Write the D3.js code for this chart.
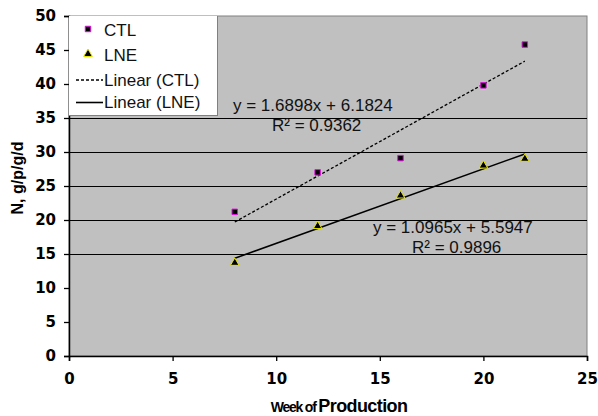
<!DOCTYPE html>
<html>
<head>
<meta charset="utf-8">
<script src="https://cdn.jsdelivr.net/npm/d3@7"></script>
<style>
  body { margin: 0; background: #fff; }
  text { font-family: "Liberation Sans", Arial, sans-serif; }
</style>
</head>
<body>
<div id="graph"></div>
<script>
const margin = {top: 16, right: 11, bottom: 60, left: 69};
const width = 598 - margin.left - margin.right;
const height = 416 - margin.top - margin.bottom;

// data
const weeks = [8, 12, 16, 20, 22];
const ctl = [21.2, 27, 29.1, 39.8, 45.8];
const lne = [13.7, 19.1, 23.6, 28, 29];
// trend lines as printed on the chart: [slope, intercept, r2]
const ctlFit = [1.6898, 6.1824, 0.9362];
const lneFit = [1.0965, 5.5947, 0.9896];
const xTicks = [0, 5, 10, 15, 20, 25];
const yTicks = [0, 5, 10, 15, 20, 25, 30, 35, 40, 45, 50];
const gridTicks = [15, 20, 25, 30, 35];
const legendItems = ["CTL", "LNE", "Linear (CTL)", "Linear (LNE)"];

const svg = d3.select("#graph")
  .append("svg")
  .attr("width", width + margin.left + margin.right)
  .attr("height", height + margin.top + margin.bottom)
  .append("g")
  .attr("transform", "translate(" + margin.left + "," + margin.top + ")");

const x = d3.scaleLinear().range([0, width]).domain([0, 25]);
const y = d3.scaleLinear().range([height, 0]).domain([0, 50]);

// plot background
svg.append("rect")
  .attr("width", width)
  .attr("height", height)
  .attr("fill", "#c0c0c0")
  .attr("stroke", "#808080")
  .attr("stroke-width", 1);

// grid lines (only the middle band has them)
svg.selectAll(".grid")
  .data(gridTicks)
  .enter().append("line")
  .attr("x1", 0).attr("x2", width)
  .attr("y1", d => y(d) + 0.5).attr("y2", d => y(d) + 0.5)
  .attr("stroke", "#000").attr("stroke-width", 1);

// axes
const xAxis = svg.append("g")
  .attr("transform", "translate(0," + height + ")")
  .call(d3.axisBottom(x).tickValues(xTicks).tickSize(5).tickPadding(12));
const yAxis = svg.append("g")
  .call(d3.axisLeft(y).tickValues(yTicks).tickSize(5).tickPadding(8));

[xAxis, yAxis].forEach(a => {
  a.select(".domain").attr("stroke", "#000").attr("stroke-width", 1.5);
  a.selectAll(".tick line").attr("stroke", "#000").attr("stroke-width", 1.3);
  a.selectAll(".tick text")
    .attr("fill", "#000")
    .style("font-family", "'DejaVu Sans', sans-serif")
    .style("font-weight", "bold")
    .style("font-size", "15px");
});

// trend lines
const fitLine = d3.line()
  .x(d => x(d[0]))
  .y(d => y(d[1]));

const trend = (fit) => [weeks[0], weeks[weeks.length - 1]].map(w => [w, fit[0] * w + fit[1]]);

svg.append("path")
  .datum(trend(ctlFit))
  .attr("d", fitLine)
  .attr("fill", "none")
  .attr("stroke", "#000")
  .attr("stroke-width", 1.3)
  .attr("stroke-dasharray", "3,2");

svg.append("path")
  .datum(trend(lneFit))
  .attr("d", fitLine)
  .attr("fill", "none")
  .attr("stroke", "#000")
  .attr("stroke-width", 1.6);

// markers
const square = d3.symbol().type(d3.symbolSquare).size(30);
const tri = d3.symbol().type(d3.symbolTriangle).size(32);

svg.selectAll(".ctl")
  .data(weeks.map((w, i) => [w, ctl[i]]))
  .enter().append("path")
  .attr("class", "ctl")
  .attr("d", square)
  .attr("transform", d => `translate(${x(d[0])},${y(d[1])})`)
  .attr("fill", "#000")
  .attr("stroke", "#e010e0")
  .attr("stroke-width", 1);

svg.selectAll(".lne")
  .data(weeks.map((w, i) => [w, lne[i]]))
  .enter().append("path")
  .attr("class", "lne")
  .attr("d", tri)
  .attr("transform", d => `translate(${x(d[0])},${y(d[1])})`)
  .attr("fill", "#000")
  .attr("stroke", "#e8e800")
  .attr("stroke-width", 1);

// equation labels
const eq = (fit, x0, y0, rx, ry) => {
  svg.append("text")
    .attr("x", x0).attr("y", y0)
    .attr("font-size", "17px")
    .attr("fill", "#111")
    .text(`y = ${fit[0].toFixed(4)}x + ${fit[1].toFixed(4)}`);
  svg.append("text")
    .attr("x", rx).attr("y", ry)
    .attr("font-size", "17px")
    .attr("fill", "#111")
    .text(`R² = ${fit[2].toFixed(4)}`);
};
eq(ctlFit, 164, 95, 203, 115);
eq(lneFit, 304, 217, 343, 237);

// legend
const legend = svg.append("g");
legend.append("rect")
  .attr("x", 0).attr("y", 0)
  .attr("width", 148).attr("height", 99)
  .attr("fill", "#fff");
legend.append("line")
  .attr("x1", 148.5).attr("x2", 148.5).attr("y1", 0).attr("y2", 100)
  .attr("stroke", "#808080");
legend.append("line")
  .attr("x1", 0).attr("x2", 148).attr("y1", 99.5).attr("y2", 99.5)
  .attr("stroke", "#808080");

const baselines = [20, 45, 70, 92];
legendItems.forEach((t, i) => {
  legend.append("text")
    .attr("x", 35)
    .attr("y", baselines[i])
    .attr("font-size", "17px")
    .attr("fill", "#111")
    .text(t);
});
legend.append("path").attr("d", square)
  .attr("transform", "translate(19,13)")
  .attr("fill", "#000").attr("stroke", "#e010e0");
legend.append("path").attr("d", tri)
  .attr("transform", "translate(19,38)")
  .attr("fill", "#000").attr("stroke", "#e8e800");
legend.append("line")
  .attr("x1", 7).attr("x2", 34).attr("y1", 64).attr("y2", 64)
  .attr("stroke", "#000").attr("stroke-width", 1.3).attr("stroke-dasharray", "3,2");
legend.append("line")
  .attr("x1", 7).attr("x2", 34).attr("y1", 86.5).attr("y2", 86.5)
  .attr("stroke", "#000").attr("stroke-width", 1.6);

// axis titles
const xt = svg.append("text")
  .attr("transform", "translate(270," + (height + 56) + ")")
  .style("text-anchor", "middle")
  .style("font-weight", "bold");
xt.append("tspan")
  .style("font-size", "14px")
  .style("letter-spacing", "-1.2px")
  .text("Week of ");
xt.append("tspan")
  .style("font-size", "18px")
  .style("letter-spacing", "-0.6px")
  .text("Production");

svg.append("text")
  .attr("transform", "rotate(-90)")
  .attr("x", 0 - 162)
  .attr("y", -46)
  .style("text-anchor", "middle")
  .style("font-weight", "bold")
  .style("font-size", "16px")
  .text("N, g/p/g/d");
</script>
</body>
</html>
